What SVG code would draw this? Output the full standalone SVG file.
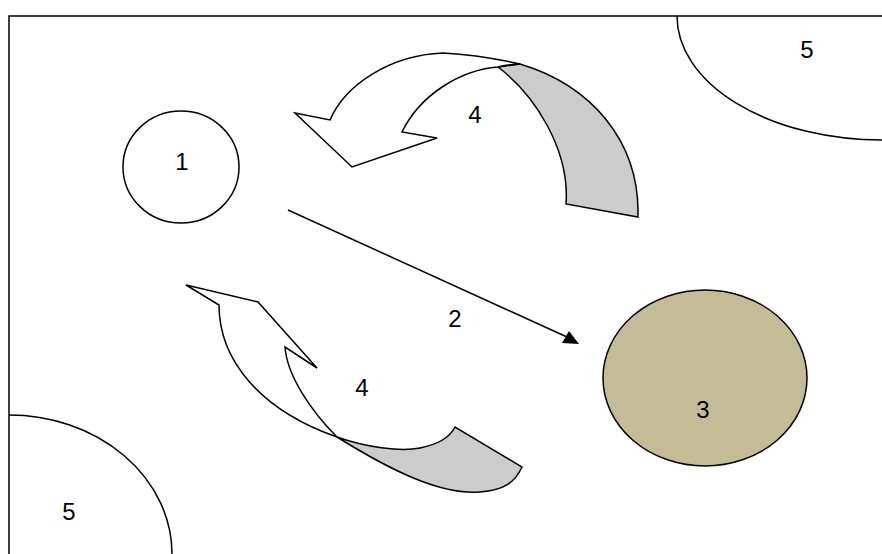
<svg xmlns="http://www.w3.org/2000/svg" width="882" height="554" viewBox="0 0 882 554">
  <style>
    .ln { fill: none; stroke: #000; stroke-width: 1.5; }
    .wh { fill: #fff; stroke: #000; stroke-width: 1.5; stroke-linejoin: miter; }
    .gr { fill: #cccccc; stroke: #000; stroke-width: 1.5; }
    .lbl { font-family: "Liberation Sans", Arial, sans-serif; font-size: 24px; fill: #000; text-anchor: middle; }
  </style>
  <rect width="882" height="554" fill="#fff"/>
  <!-- outer frame -->
  <rect x="9" y="16" width="900" height="600" class="ln" stroke-width="1.6"/>

  <g id="zone5-top">
    <path d="M677,16 A205,124 0 0 0 882,140" class="ln"/>
    <text x="807" y="58" class="lbl">5</text>
  </g>
  <g id="zone5-bottom">
    <path d="M9,415 A163,139 0 0 1 172,554" class="ln"/>
    <text x="69" y="520" class="lbl">5</text>
  </g>

  <g id="node1">
    <ellipse cx="181" cy="167" rx="58" ry="56" class="wh"/>
    <text x="182" y="170" class="lbl">1</text>
  </g>
  <g id="node3">
    <ellipse cx="705" cy="378" rx="102" ry="88" fill="#c4bc96" stroke="#000" stroke-width="1.5"/>
    <text x="703" y="418" class="lbl">3</text>
  </g>

  <g id="cycle-top">
    <path class="gr" d="M520,64 C590,85 640,140 638,217 L566,204 C570,150 535,95 498,67 Z"/>
    <path class="wh" d="M330,120 C345,85 390,55 443,53 Q480,55 520,64 Q505,65 498,67 C460,70 420,95 402,132 L437,138 L352,167 L295,113 Z"/>
    <text x="475" y="123" class="lbl">4</text>
  </g>

  <g id="cycle-bottom">
    <path class="wh" d="M219,305 C219,360 260,410 337,437 C310,410 287,375 285,347 L317,368 L258,302 L186,285 Z"/>
    <path class="gr" d="M337,437 C390,470 440,495 480,492 C505,490 515,482 522,467 L455,427 C450,437 440,444 420,448 C400,452 365,447 337,437 Z"/>
    <text x="362" y="396" class="lbl">4</text>
  </g>

  <g id="connectors">
    <line x1="288" y1="210" x2="567" y2="337" class="ln" stroke-width="2.2"/>
    <polygon points="569,331 579,344 562,343" fill="#000"/>
    <text x="455" y="327" class="lbl">2</text>
  </g>
</svg>
